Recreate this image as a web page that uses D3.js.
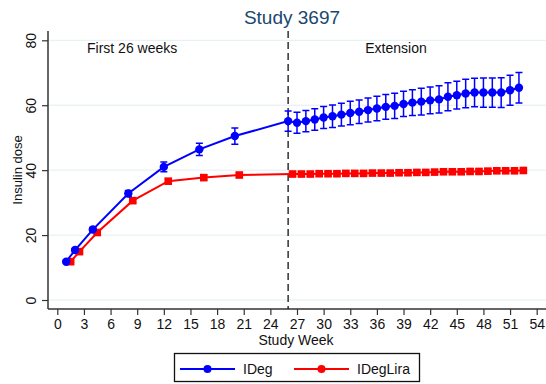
<!DOCTYPE html>
<html>
<head>
<meta charset="utf-8">
<script src="https://cdn.jsdelivr.net/npm/d3@7"></script>
<style>
  body { margin: 0; background: #fff; }
  text { font-family: Arial, "Liberation Sans", sans-serif; fill: #111; }
</style>
</head>
<body>
<script>
var weeks = [1, 2, 4, 8, 12, 16, 20, 26, 27, 28, 29, 30, 31, 32, 33, 34, 35, 36, 37, 38, 39,
  40, 41, 42, 43, 44, 45, 46, 47, 48, 49, 50, 51, 52];
var ideg = [11.8, 15.4, 21.7, 32.8, 41.0, 46.4, 50.5, 55.1, 54.6, 55.1, 55.6, 56.2, 56.6, 57.1,
  57.6, 58.0, 58.5, 59.0, 59.5, 59.8, 60.4, 60.8, 61.1, 61.5, 61.8, 62.6, 63.1, 63.6, 63.9,
  63.9, 63.9, 63.9, 64.6, 65.4];
var idegErr = [0.4, 0.5, 0.6, 0.9, 1.5, 1.9, 2.5, 3.1, 3.2, 3.3, 3.3, 3.4, 3.5, 3.5, 3.6, 3.6,
  3.7, 3.8, 3.8, 3.9, 3.9, 4.0, 4.1, 4.1, 4.2, 4.3, 4.3, 4.4, 4.4, 4.5, 4.5, 4.6, 4.6, 4.7];
var ideglira = [11.8, 14.9, 20.8, 30.6, 36.6, 37.7, 38.5, 38.8, 38.8, 38.8, 38.9, 38.9, 38.9,
  39.0, 39.0, 39.0, 39.1, 39.1, 39.1, 39.2, 39.2, 39.3, 39.3, 39.4, 39.5, 39.5, 39.5, 39.6,
  39.6, 39.7, 39.8, 39.8, 39.8, 39.9];
var idegliraErr = [0.3, 0.4, 0.5, 0.6, 0.7, 0.7, 0.7, 0.7, 0.7, 0.7, 0.7, 0.7, 0.7, 0.7, 0.7,
  0.7, 0.7, 0.7, 0.7, 0.7, 0.7, 0.7, 0.7, 0.7, 0.7, 0.7, 0.7, 0.7, 0.7, 0.7, 0.7, 0.7, 0.7, 0.7];
var xTicks = [0, 3, 6, 9, 12, 15, 18, 21, 24, 27, 30, 33, 36, 39, 42, 45, 48, 51, 54];
var yTicks = [0, 20, 40, 60, 80];
var seriesNames = ["IDeg", "IDegLira"];

var width = 546, height = 384;
var svg = d3.select("body").append("svg")
  .attr("width", width)
  .attr("height", height);

var x = d3.scaleLinear().domain([0, 54]).range([57.3, 536.7]);
var y = d3.scaleLinear().domain([0, 80]).range([300, 40.3]);

// grid
svg.append("g")
  .selectAll("line")
  .data(yTicks)
  .enter()
  .append("line")
  .attr("x1", 48).attr("x2", width)
  .attr("y1", function(d) { return y(d); })
  .attr("y2", function(d) { return y(d); })
  .attr("stroke", "#e3eef1")
  .attr("stroke-width", 1);

// axes
var yAxis = svg.append("g")
  .attr("transform", "translate(48,0)")
  .call(d3.axisLeft(y).tickValues(yTicks).tickSize(6).tickPadding(0).tickFormat(d3.format("d")));
yAxis.select(".domain").attr("d", "M0,31V309").attr("stroke", "#333").attr("stroke-width", 1.5);
yAxis.selectAll(".tick line").attr("stroke", "#333").attr("stroke-width", 1.2);
yAxis.selectAll(".tick text")
  .attr("x", null).attr("dy", null)
  .attr("transform", "translate(-12,0) rotate(-90)")
  .attr("text-anchor", "middle")
  .style("font-size", "14px");

var xAxis = svg.append("g")
  .attr("transform", "translate(0,309)")
  .call(d3.axisBottom(x).tickValues(xTicks).tickSize(6).tickPadding(4));
xAxis.select(".domain").attr("d", "M48,0H" + width).attr("stroke", "#333").attr("stroke-width", 1.5);
xAxis.selectAll(".tick line").attr("stroke", "#333").attr("stroke-width", 1.2);
xAxis.selectAll(".tick text").style("font-size", "14px");
svg.selectAll(".tick text").attr("fill", "#111").style("font-family", "Arial, 'Liberation Sans', sans-serif");

// dashed separator at week 26
svg.append("line")
  .attr("x1", x(26)).attr("x2", x(26))
  .attr("y1", 31).attr("y2", 309)
  .attr("stroke", "#111")
  .attr("stroke-width", 1.3)
  .attr("stroke-dasharray", "7,4");

// titles
svg.append("text").attr("x", 292).attr("y", 24).attr("text-anchor", "middle")
  .style("font-size", "19px").style("fill", "#1a476f").text("Study 3697");
svg.append("text").attr("x", 296).attr("y", 345).attr("text-anchor", "middle")
  .style("font-size", "14px").text("Study Week");
svg.append("text").attr("transform", "translate(22,170) rotate(-90)").attr("text-anchor", "middle")
  .style("font-size", "13px").text("Insulin dose");
svg.append("text").attr("x", 87).attr("y", 53).style("font-size", "14px").text("First 26 weeks");
svg.append("text").attr("x", 396).attr("y", 53).attr("text-anchor", "middle")
  .style("font-size", "14px").text("Extension");

var line = d3.line();

function drawSeries(vals, errs, color, shift, shape) {
  var pts = weeks.map(function(w, i) { return [x(w + shift), y(vals[i]), errs[i], vals[i]]; });
  var g = svg.append("g");
  g.append("path")
    .attr("d", line(pts.map(function(p) { return [p[0], p[1]]; })))
    .attr("fill", "none")
    .attr("stroke", color)
    .attr("stroke-width", 2);
  var eb = g.selectAll(".err").data(pts).enter().append("path")
    .attr("d", function(p) {
      var t = y(p[3] + p[2]), b = y(p[3] - p[2]);
      return "M" + (p[0] - 3.5) + "," + t + "H" + (p[0] + 3.5) +
        "M" + p[0] + "," + t + "V" + b +
        "M" + (p[0] - 3.5) + "," + b + "H" + (p[0] + 3.5);
    })
    .attr("fill", "none")
    .attr("stroke", color)
    .attr("stroke-width", 1.5);
  if (shape == "circle") {
    g.selectAll(".pt").data(pts).enter().append("circle")
      .attr("cx", function(p) { return p[0]; })
      .attr("cy", function(p) { return p[1]; })
      .attr("r", 4.2)
      .attr("fill", color);
  } else {
    g.selectAll(".pt").data(pts).enter().append("rect")
      .attr("x", function(p) { return p[0] - 3.8; })
      .attr("y", function(p) { return p[1] - 3.8; })
      .attr("width", 7.6).attr("height", 7.6)
      .attr("fill", color);
  }
}

drawSeries(ideglira, idegliraErr, "#ff0000", 0.5, "square");
drawSeries(ideg, idegErr, "#0000ff", 0, "circle");

// legend
var leg = svg.append("g");
leg.append("rect").attr("x", 174.5).attr("y", 353.5).attr("width", 245).attr("height", 28)
  .attr("fill", "#fff").attr("stroke", "#111").attr("stroke-width", 1.3);
var legItems = [
  {name: seriesNames[0], color: "#0000ff", x0: 180},
  {name: seriesNames[1], color: "#ff0000", x0: 294}
];
legItems.forEach(function(d) {
  leg.append("line").attr("x1", d.x0).attr("x2", d.x0 + 55).attr("y1", 369).attr("y2", 369)
    .attr("stroke", d.color).attr("stroke-width", 2);
  leg.append("circle").attr("cx", d.x0 + 27.5).attr("cy", 369).attr("r", 4).attr("fill", d.color);
  leg.append("text").attr("x", d.x0 + 63).attr("y", 374).style("font-size", "14px").text(d.name);
});
</script>
</body>
</html>
